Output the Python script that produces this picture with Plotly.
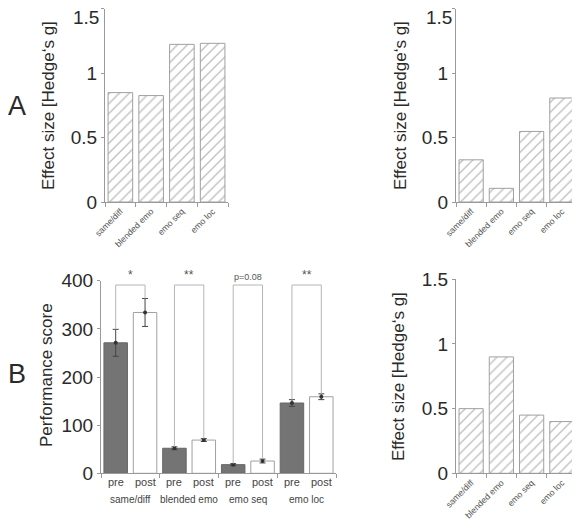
import plotly.graph_objects as go

# ---- data ----
categories = ["same/diff", "blended emo", "emo seq", "emo loc"]
effect_A_left = [0.848, 0.825, 1.222, 1.23]
effect_A_right = [0.327, 0.106, 0.547, 0.806]
effect_B_right = [0.50, 0.90, 0.45, 0.40]

pre_scores = [271, 52, 18, 146]
pre_err = [28, 3, 2, 7]
post_scores = [334, 69, 25.5, 159]
post_err = [29, 3, 4, 6]
bar_labels = ["pre", "post"]
sig_labels = ["*", "**", "p=0.08", "**"]
effect_ticks = [0, 0.5, 1, 1.5]
effect_ticktext = ["0", "0.5", "1", "1.5"]
bracket_level = 391

# page body has an 8px margin: the figure is sized/positioned to compensate
OFF = 8
W, H = 580 - OFF, 519 - OFF
FONT = "Liberation Sans, Arial, sans-serif"
TXT = "#2a2a2a"
AX = "#9a9a9a"

fig = go.Figure()

hatch = dict(shape="/", fgcolor="#7a7a7a", bgcolor="white", size=7, solidity=0.18)
for vals, xa, ya in [(effect_A_left, "x", "y"), (effect_A_right, "x2", "y2"), (effect_B_right, "x4", "y4")]:
    fig.add_trace(go.Bar(x=categories, y=vals, xaxis=xa, yaxis=ya, width=0.8,
                         marker=dict(color="white", pattern=hatch,
                                     line=dict(color="#a0a0a0", width=1)),
                         showlegend=False, hoverinfo="skip"))

# Panel B left: pre/post bars
pre_x = [2 * i for i in range(len(categories))]
post_x = [2 * i + 1 for i in range(len(categories))]
fig.add_trace(go.Bar(x=pre_x, y=pre_scores, xaxis="x3", yaxis="y3", width=0.8,
                     marker=dict(color="#747474", line=dict(color="#666666", width=1)),
                     showlegend=False))
fig.add_trace(go.Bar(x=post_x, y=post_scores, xaxis="x3", yaxis="y3", width=0.8,
                     marker=dict(color="white", line=dict(color="#a0a0a0", width=1)),
                     showlegend=False))
for xs, ys, es in [(pre_x, pre_scores, pre_err), (post_x, post_scores, post_err)]:
    fig.add_trace(go.Scatter(x=xs, y=ys, xaxis="x3", yaxis="y3", mode="markers",
                             marker=dict(size=4, color="#333333"),
                             error_y=dict(type="data", array=es, color="#444444",
                                          thickness=1, width=3),
                             showlegend=False))

# significance brackets
for i in range(len(categories)):
    xp, xq = pre_x[i], post_x[i]
    y0 = pre_scores[i] + pre_err[i]
    y1 = post_scores[i] + post_err[i]
    fig.add_trace(go.Scatter(x=[xp, xp, xq, xq], y=[y0, bracket_level, bracket_level, y1],
                             xaxis="x3", yaxis="y3", mode="lines",
                             line=dict(color="#b5b5b5", width=1),
                             showlegend=False, hoverinfo="skip"))

def px_x(p):
    return (p - OFF) / W

def px_y(p):
    return (H - (p - OFF)) / H

tickfont = dict(family=FONT, size=19, color=TXT)
titlefont = dict(family=FONT, size=17, color=TXT)

def cat_xaxis(domain, anchor):
    return dict(domain=domain, anchor=anchor, type="category", tickson="boundaries",
                ticks="outside", ticklen=4, tickcolor=AX, tickangle=-45, automargin=False,
                tickfont=dict(family=FONT, size=8.7, color="#555555"), ticklabeloverflow="allow",
                showline=True, linecolor=AX, linewidth=1, showgrid=False, zeroline=False,
                range=[-0.5, 3.5], fixedrange=True)

def eff_yaxis(domain, anchor, top_label=True):
    text = list(effect_ticktext) if top_label else effect_ticktext[:-1] + [""]
    return dict(domain=domain, anchor=anchor, range=[0, 1.5], automargin=False,
                tickvals=effect_ticks, ticktext=text,
                ticks="outside", ticklen=3, tickcolor=AX, tickfont=tickfont,
                ticklabeloverflow="allow",
                showline=True, linecolor=AX, linewidth=1, showgrid=False, zeroline=False)

yA = [px_y(202), px_y(8.5)]
yB = [px_y(473.3), px_y(279.3)]

fig.update_layout(
    width=W, height=H, margin=dict(l=0, r=0, t=0, b=0, autoexpand=False),
    paper_bgcolor="white", plot_bgcolor="white", bargap=0.2,
    xaxis=cat_xaxis([px_x(105), px_x(228)], "y"),
    yaxis=eff_yaxis(yA, "x", top_label=False),
    xaxis2=cat_xaxis([px_x(456), px_x(577)], "y2"),
    yaxis2=eff_yaxis(yA, "x2", top_label=False),
    xaxis4=cat_xaxis([px_x(456), px_x(577)], "y4"),
    yaxis4=eff_yaxis(yB, "x4"),
    xaxis3=dict(domain=[px_x(101), px_x(336)], anchor="y3", range=[-0.5, 7.5], automargin=False,
                tickvals=[-0.5, 1.5, 3.5, 5.5, 7.5], ticktext=[""] * 5,
                ticks="outside", ticklen=4, tickcolor=AX,
                showline=True, linecolor=AX, linewidth=1, showgrid=False, zeroline=False),
    yaxis3=dict(domain=[px_y(473.3), px_y(280.7)], anchor="x3", range=[0, 400], automargin=False,
                tickvals=[0, 100, 200, 300, 400], ticks="outside", ticklen=3, tickcolor=AX,
                tickfont=tickfont, ticklabeloverflow="allow", showline=True, linecolor=AX,
                linewidth=1, showgrid=False, zeroline=False),
)

ann = []
# top "1.5" labels of panel A, kept just inside the page top
for xr in [100, 453]:
    ann.append(dict(text=effect_ticktext[-1], x=px_x(xr), y=1.0, xref="paper", yref="paper",
                    xanchor="right", yanchor="top", borderpad=0, yshift=2,
                    showarrow=False, font=tickfont))
ann.append(dict(text="A", x=px_x(17), y=px_y(106), xref="paper", yref="paper",
                xanchor="center", yanchor="middle",
                showarrow=False, font=dict(family=FONT, size=27, color=TXT)))
ann.append(dict(text="B", x=px_x(17), y=px_y(374), xref="paper", yref="paper",
                xanchor="center", yanchor="middle",
                showarrow=False, font=dict(family=FONT, size=27, color=TXT)))
# rotated axis titles
for text, xc, yc in [("Effect size [Hedge\u2018s g]", 48, 106),
                     ("Effect size [Hedge\u2018s g]", 400, 106),
                     ("Effect size [Hedge\u2018s g]", 398, 376),
                     ("Performance score", 46, 375)]:
    ann.append(dict(text=text, x=px_x(xc), y=px_y(yc), xref="paper", yref="paper",
                    xanchor="center", yanchor="middle",
                    textangle=-90, showarrow=False, font=titlefont))
for i, c in enumerate(categories):
    ann.append(dict(text=c, x=2 * i + 0.5, y=px_y(499.5), xref="x3", yref="paper",
                    xanchor="center", yanchor="middle",
                    showarrow=False, font=dict(family=FONT, size=10, color="#444444")))
    for j, lab in enumerate(bar_labels):
        ann.append(dict(text=lab, x=2 * i + j, y=px_y(481.5), xref="x3", yref="paper",
                        xanchor="center", yanchor="middle",
                        showarrow=False, font=dict(family=FONT, size=11, color="#444444")))
    s = sig_labels[i]
    ann.append(dict(text=s, x=2 * i + 0.5, y=bracket_level + 2, xref="x3", yref="y3",
                    xanchor="center", yanchor="bottom", showarrow=False,
                    font=dict(family=FONT, size=9 if len(s) > 2 else 12, color="#555555")))
fig.update_layout(annotations=ann)

fig.write_html("out.html")
